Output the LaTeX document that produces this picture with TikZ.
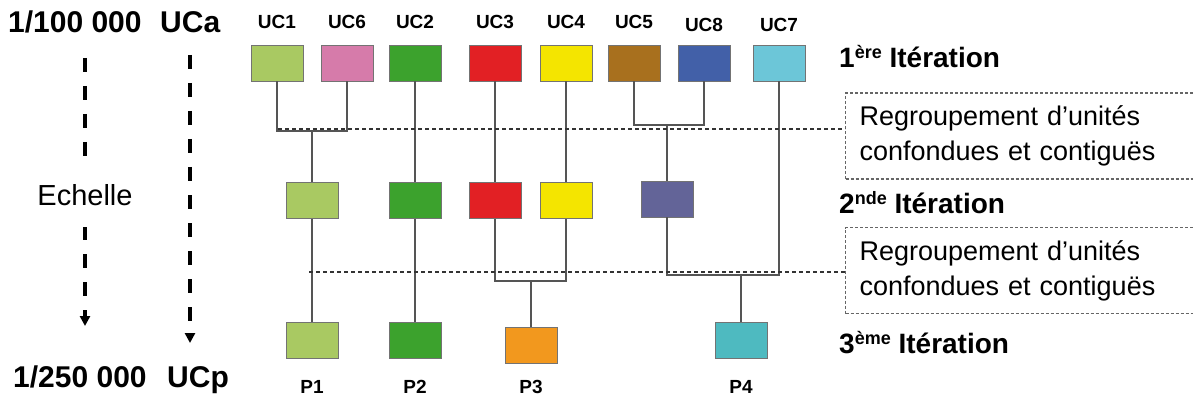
\documentclass[tikz,border=0pt]{standalone}
\usepackage{fontspec}
\setmainfont{Liberation Sans}
\usepackage{tikz}
\usetikzlibrary{arrows.meta,positioning,calc}
\definecolor{ucLime}{HTML}{A9C962}
\definecolor{ucPink}{HTML}{D67BAA}
\definecolor{ucGreen}{HTML}{3CA22D}
\definecolor{ucRed}{HTML}{E22024}
\definecolor{ucYellow}{HTML}{F4E500}
\definecolor{ucBrown}{HTML}{A8701E}
\definecolor{ucBlue}{HTML}{4260A8}
\definecolor{ucCyan}{HTML}{6CC6D8}
\definecolor{ucViolet}{HTML}{636498}
\definecolor{ucOrange}{HTML}{F2981E}
\definecolor{ucTeal}{HTML}{4EBAC0}
\definecolor{ucLine}{HTML}{555555}
\definecolor{ucDash}{HTML}{333333}
\newcommand{\itsup}[1]{\raisebox{9pt}{\fontsize{18}{18}\selectfont #1}}

\begin{document}
\begin{tikzpicture}[
  x=1pt, y=-1pt,
  cbox/.style  = {draw=black!55, line width=0.9pt, inner sep=0pt,
                  minimum width=52pt, minimum height=36pt},
  ulbl/.style  = {font=\fontsize{19}{19}\selectfont\bfseries, inner sep=0pt},
  link/.style  = {draw=ucLine, line width=1.6pt},
  dline/.style = {draw=ucDash, line width=1.2pt, dash pattern=on 4pt off 3pt},
  gbox/.style  = {draw=black!60, line width=1.2pt, dash pattern=on 3pt off 2pt,
                  anchor=west, align=left, text width=390pt, inner xsep=14pt,
                  minimum height=86pt,
                  font=\fontsize{27}{35}\selectfont},
  itlbl/.style = {font=\fontsize{28}{28}\selectfont\bfseries,
                  anchor=base west, inner sep=0pt},
  sclbl/.style = {font=\fontsize{30}{30}\selectfont\bfseries,
                  anchor=base west, inner sep=0pt},
  scarr/.style = {-{Triangle[width=10pt,length=10pt]}, draw=black,
                  line width=3.4pt, dash pattern=on 14pt off 14pt},
]
\clip (0,0) rectangle (1193,398);

%── Scale axis ────────────────────────────────────────────────────────────────
\node[sclbl] (sc1) at (8,33)   {1/100 000};
\node[sclbl] (uca) at (160,33) {UCa};
\node[sclbl] (sc2) at (13,387) {1/250 000};
\node[sclbl] (ucp) at (167,387) {UCp};

\coordinate (l0) at (85,58);
\coordinate (l1) at (85,326);
\coordinate (r0) at (190,55);
\coordinate (r1) at (190,343);
\draw[scarr] (l0) -- (l1)
    node[pos=0.51, fill=white, inner xsep=2pt, minimum height=64pt,
         font=\fontsize{29}{29}\selectfont] (ech) {Echelle};
\draw[scarr] (r0) -- (r1);

%── 1st iteration: UCa ────────────────────────────────────────────────────────
\node[cbox, fill=ucLime]   (uc1) at (277,63) {};
\node[cbox, fill=ucPink]   (uc6) at (347,63) {};
\node[cbox, fill=ucGreen]  (uc2) at (415,63) {};
\node[cbox, fill=ucRed]    (uc3) at (495,63) {};
\node[cbox, fill=ucYellow] (uc4) at (566,63) {};
\node[cbox, fill=ucBrown]  (uc5) at (634,63) {};
\node[cbox, fill=ucBlue]   (uc8) at (704,63) {};
\node[cbox, fill=ucCyan]   (uc7) at (779,63) {};

\node[ulbl, above=16pt of uc1] (lb1) {UC1};
\node[ulbl, above=16pt of uc6] (lb6) {UC6};
\node[ulbl, above=16pt of uc2] (lb2) {UC2};
\node[ulbl, above=16pt of uc3] (lb3) {UC3};
\node[ulbl, above=16pt of uc4] (lb4) {UC4};
\node[ulbl, above=16pt of uc5] (lb5) {UC5};
\node[ulbl, above=13pt of uc8] (lb8) {UC8};
\node[ulbl, above=13pt of uc7] (lb7) {UC7};

%── 2nd iteration ─────────────────────────────────────────────────────────────
\node[cbox, fill=ucLime]   (a16) at (312,200.5) {};
\node[cbox, fill=ucGreen]  (a2)  at (415,200.5) {};
\node[cbox, fill=ucRed]    (a3)  at (495,200.5) {};
\node[cbox, fill=ucYellow] (a4)  at (566,200.5) {};
\node[cbox, fill=ucViolet] (a58) at (667,199)   {};

%── 3rd iteration: UCp ────────────────────────────────────────────────────────
\node[cbox, fill=ucLime]   (p1) at (312,340.5) {};
\node[cbox, fill=ucGreen]  (p2) at (415,340.5) {};
\node[cbox, fill=ucOrange] (p3) at (531,345.5) {};
\node[cbox, fill=ucTeal]   (p4) at (741,340.5) {};

\node[ulbl, below=21pt of p1] (lp1) {P1};
\node[ulbl, below=21pt of p2] (lp2) {P2};
\node[ulbl, below=16pt of p3] (lp3) {P3};
\node[ulbl, below=21pt of p4] (lp4) {P4};

%── Merging links ─────────────────────────────────────────────────────────────
\coordinate (m16) at (312,131);
\coordinate (m58) at (667,125);
\coordinate (m34) at (531,281);
\coordinate (m7)  at (741,275);

\draw[link] (uc1.south) |- (m16) -| (uc6.south);
\draw[link] (m16) -- (a16.north);
\draw[link] (uc2) -- (a2);
\draw[link] (uc3) -- (a3);
\draw[link] (uc4) -- (a4);
\draw[link] (uc5.south) |- (m58) -| (uc8.south);
\draw[link] (m58) -- (a58.north);

\draw[link] (a16) -- (p1);
\draw[link] (a2) -- (p2);
\draw[link] (a3.south) |- (m34) -| (a4.south);
\draw[link] (m34) -- (p3.north);
\draw[link] (a58.south) |- (m7) -| (uc7.south);
\draw[link] (m7) -- (p4.north);

%── Grouping steps ────────────────────────────────────────────────────────────
\node[gbox] (grp1) at (845,136)   {Regroupement d’unités\\confondues et contiguës};
\node[gbox] (grp2) at (845,270.5) {Regroupement d’unités\\confondues et contiguës};

\coordinate (d1) at (278,129);
\coordinate (d2) at (309,272);
\draw[dline] (d1) -- (d1 -| grp1.west);
\draw[dline] (d2) -- (d2 -| grp2.west);

%── Iteration labels ──────────────────────────────────────────────────────────
\node[itlbl] (it1) at (839,68)  {1\itsup{ère} Itération};
\node[itlbl] (it2) at (839,213) {2\itsup{nde} Itération};
\node[itlbl] (it3) at (839,353) {3\itsup{ème} Itération};

\end{tikzpicture}
\end{document}
